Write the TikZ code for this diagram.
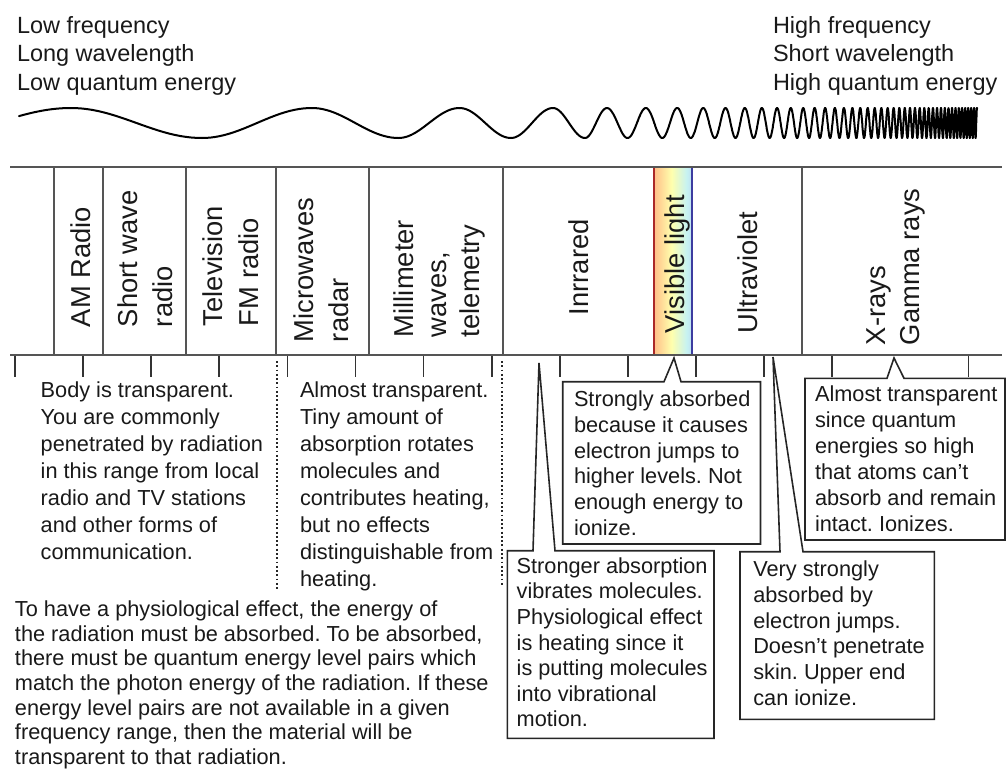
\documentclass[tikz,border=0pt]{standalone}
\usepackage{fontspec}
\setmainfont{Liberation Sans}
\frenchspacing
\newcommand{\txtblock}[2]{\vtop{\baselineskip=#1\relax\lineskiplimit=-100pt\halign{##\hfil\cr#2\crcr}}}
\newcommand{\fTop}{\fontsize{17.6pt}{21.5pt}\selectfont}
\newcommand{\fBody}{\fontsize{16.3pt}{20pt}\selectfont}
\newcommand{\fBand}{\fontsize{20.5pt}{25.5pt}\selectfont}
\definecolor{framegray}{RGB}{85,85,85}
\definecolor{visred}{RGB}{170,40,40}
\definecolor{visblue}{RGB}{60,60,160}
\pgfdeclarehorizontalshading{visspec}{100bp}{rgb(0bp)=(0.97,0.55,0.50); rgb(28bp)=(1,0.78,0.55); rgb(48bp)=(1,1,0.68); rgb(68bp)=(0.78,0.95,0.95); rgb(100bp)=(0.62,0.62,0.95)}
\tikzset{
  txt/.style={anchor=base west, inner sep=0pt, outer sep=0pt, font=\fBody, text=black!90},
  toptxt/.style={txt, font=\fTop},
  band/.style={txt, rotate=90, font=\fBand},
  frame/.style={draw=framegray, line width=1.5pt},
  tickmark/.style={draw=black!80, line width=1.3pt},
  callout/.style={draw=black!85, line width=1.2pt, line join=miter},
  wave/.style={draw=black, line width=1.5pt, line cap=round, line join=round},
  dots/.style={draw=black!85, line width=1.5pt, dash pattern=on 1.4pt off 1.8pt}
}
\begin{document}
\begin{tikzpicture}[x=0.75pt,y=-0.75pt]
\useasboundingbox (0,0) rectangle (1008,775);

% top texts
\node[toptxt] (lowtxt) at (17,33.3) {\txtblock{21.5pt}{Low frequency\cr Long wavelength\cr Low quantum energy}};
\node[toptxt] (hightxt) at (773,33.3) {\txtblock{21.5pt}{High frequency\cr Short wavelength\cr High quantum energy}};

% wave
\draw[wave] plot[domain=0.076:0.25, samples=15, variable=\t] ({19+(\t-0.076)*(52/0.174)},{123-15*sin(360*\t)});
\foreach \a/\b/\s in {71/202/1,202/312/-1,312/398.5/1,398.5/459.5/-1,459.5/511/1,511/553/-1,553/585/1,585/607/-1}
  \draw[wave] plot[domain=0:180, samples=25, variable=\u] ({\a+(\b-\a)*(\u/180)},{123-\s*15*cos(\u)});
\draw[wave] plot[domain=4.25:45.3, samples=2500, variable=\t] ({607+1360*(0.738-exp(-0.2*ln(\t+0.32)))},{123-15*cos(360*(\t-4.25))});

% spectrum frame
\shade[shading=visspec] (654,167) rectangle (692,355);
\draw[frame] (10,167) -- (1002,167);
\draw[frame] (10,355) -- (1002,355);
\foreach \x in {54,103.3,186,276,369,502.7,801.7}
  \draw[frame] (\x,167) -- (\x,355);
\draw[line width=1.5pt, draw=visred] (654,168) -- (654,354);
\draw[line width=1.5pt, draw=visblue] (692,168) -- (692,354);

% band labels
\node[band] (am) at (90,327) {AM Radio};
\node[band] (sw) at (137,327) {\txtblock{27pt}{Short wave\cr radio}};
\node[band] (tv) at (222,326) {\txtblock{27pt}{Television\cr FM radio}};
\node[band] (mw) at (313,342) {\txtblock{26.3pt}{Microwaves\cr radar}};
\node[band] (mm) at (413,337) {\txtblock{25.1pt}{Millimeter\cr waves,\cr telemetry}};
\node[band] (ir) at (588,315) {Inrrared};
\node[band] (vis) at (684,333) {Visible light};
\node[band] (uv) at (757,333) {Ultraviolet};
\node[band] (xr) at (885,345) {\txtblock{25.5pt}{X-rays\cr Gamma rays}};

% ticks
\foreach \k in {0,...,12,14}
  \draw[tickmark] ({15+68.1*\k},356) -- ({15+68.1*\k},377);

% dotted separators
\draw[dots] (277,361) -- (277,590);
\draw[dots] (502,361) -- (502,586);

% plain text blocks
\node[txt] (body1) at (40.7,397.3) {\txtblock{20.3pt}{Body is transparent.\cr You are commonly\cr penetrated by radiation\cr in this range from local\cr radio and TV stations\cr and other forms of\cr communication.}};
\node[txt] (body2) at (300,397.3) {\txtblock{20.3pt}{Almost transparent.\cr Tiny amount of\cr absorption rotates\cr molecules and\cr contributes heating,\cr but no effects\cr distinguishable from\cr heating.}};
\node[txt] (para) at (15,616.7) {\txtblock{18.45pt}{To have a physiological effect, the energy of\cr the radiation must be absorbed. To be absorbed,\cr there must be quantum energy level pairs which\cr match the photon energy of the radiation. If these\cr energy level pairs are not available in a given\cr frequency range, then the material will be\cr transparent to that radiation.}};

% callouts
\draw[callout] (562.7,381.7) -- (664,381.7) -- (674,358) -- (681,381.7) -- (760.5,381.7) -- (760.5,544) -- (562.7,544) -- cycle;
\node[txt] (visbox) at (574,406.7) {\txtblock{19.3pt}{Strongly absorbed\cr because it causes\cr electron jumps to\cr higher levels. Not\cr enough energy to\cr ionize.}};

\draw[callout] (805,378.3) -- (887,378.3) -- (894,358) -- (904,378.3) -- (1005,378.3) -- (1005,540) -- (805,540) -- cycle;
\node[txt] (xbox) at (815,401.7) {\txtblock{19.5pt}{Almost transparent\cr since quantum\cr energies so high\cr that atoms can't\cr absorb and remain\cr intact. Ionizes.}};

\draw[callout] (507.3,550.7) -- (533,550.7) -- (539,363) -- (555,550.7) -- (714,550.7) -- (714,738.3) -- (507.3,738.3) -- cycle;
\node[txt] (irbox) at (516.7,573.3) {\txtblock{19.2pt}{Stronger absorption\cr vibrates molecules.\cr Physiological effect\cr is heating since it\cr is putting molecules\cr into vibrational\cr motion.}};

\draw[callout] (740,551.7) -- (780,551.7) -- (773,357) -- (803,551.7) -- (934.3,551.7) -- (934.3,719.3) -- (740,719.3) -- cycle;
\node[txt] (uvbox) at (753.3,576.7) {\txtblock{19.3pt}{Very strongly\cr absorbed by\cr electron jumps.\cr Doesn't penetrate\cr skin. Upper end\cr can ionize.}};
\end{tikzpicture}
\end{document}
